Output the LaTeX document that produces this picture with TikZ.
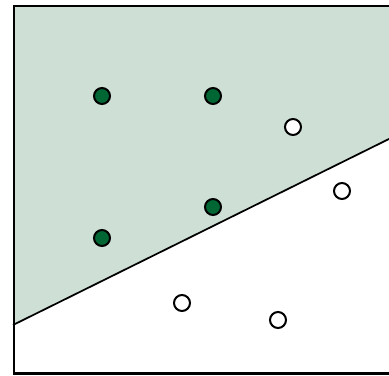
\documentclass[tikz,border=0pt]{standalone}
\usepackage{tikz}
\definecolor{regiongreen}{RGB}{206,224,213}
\definecolor{dotgreen}{RGB}{0,102,51}
\tikzset{
  posdot/.style={circle, draw, line width=1.5pt, fill=dotgreen, minimum size=12pt, inner sep=0pt},
  negdot/.style={circle, draw, line width=1.5pt, fill=white, minimum size=12pt, inner sep=0pt}
}

\begin{document}
\begin{tikzpicture}[x=0.75pt, y=-0.75pt]
\useasboundingbox (0,0) rectangle (389,375);
\clip (0,0) rectangle (389,375);
% shaded half-plane above the separating line
\fill[regiongreen] (13,6) -- (395,6) -- (395,136) -- (13,325) -- cycle;
\draw[line width=1.3pt] (13,325) -- (395,136);
\draw[line width=1.6pt] (13.8,6.3) rectangle (392,373.5);
% filled points
\node[posdot] (p1) at (102,96) {};
\node[posdot] (p2) at (213,96) {};
\node[posdot] (p3) at (213,207) {};
\node[posdot] (p4) at (102,238) {};
% open points
\node[negdot] (n1) at (293,127) {};
\node[negdot] (n2) at (342,191) {};
\node[negdot] (n3) at (182,303) {};
\node[negdot] (n4) at (278,320) {};
\end{tikzpicture}
\end{document}
